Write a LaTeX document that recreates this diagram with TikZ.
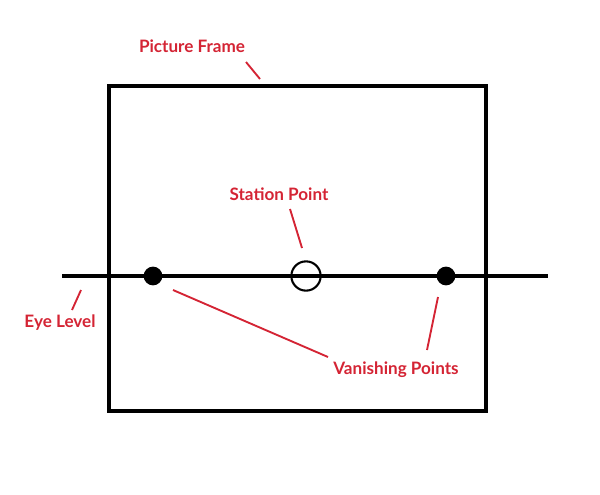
\documentclass[tikz,border=0pt]{standalone}
\usepackage{fontspec}
\setmainfont{Lato}[BoldFont={* Bold}]
\usetikzlibrary{positioning,calc}
\definecolor{labelred}{RGB}{212,36,52}

\tikzset{
  lbl/.style={text=labelred,font=\bfseries\fontsize{14.6}{17}\selectfont,inner sep=0pt},
  leader/.style={draw=labelred,line width=1.6pt},
  vpdot/.style={circle,fill=black,inner sep=0pt,minimum size=16pt},
  stpt/.style={circle,draw=black,line width=1.8pt,inner sep=0pt,minimum size=25pt}
}

\begin{document}
\begin{tikzpicture}[x=0.03cm,y=-0.03cm]
  \useasboundingbox (0,0) rectangle (600,494);
  % frame and eye level
  \draw[line width=2.6pt] (109,86) rectangle (486,411);
  \coordinate (eyeL) at (62,276);
  \coordinate (eyeR) at (548,276);
  \draw[line width=2.6pt] (eyeL) -- (eyeR);
  \node[vpdot] (vp1) at (153,276) {};
  \node[vpdot] (vp2) at (446,276) {};
  \node[stpt] (sp) at (306,276) {};

  % labels
  \node[lbl] (frame) at (192,46) {Picture Frame};
  \node[lbl] (station) at (279,194) {Station Point};
  \node[lbl] (eye) at (60,323) {Eye Level};
  \node[lbl] (vanish) at (396,370) {Vanishing Points};

  % leaders
  \coordinate (f1) at (246,62);  \coordinate (f2) at (260,79);
  \coordinate (s1) at (290,209); \coordinate (s2) at (302,248);
  \coordinate (e1) at (81,290);  \coordinate (e2) at (72,310);
  \coordinate (v1) at (173,290); \coordinate (v2) at (328,357);
  \coordinate (v3) at (438,297); \coordinate (v4) at (427,350);
  \draw[leader] (f1) -- (f2);
  \draw[leader] (s1) -- (s2);
  \draw[leader] (e1) -- (e2);
  \draw[leader] (v1) -- (v2);
  \draw[leader] (v3) -- (v4);
\end{tikzpicture}
\end{document}
